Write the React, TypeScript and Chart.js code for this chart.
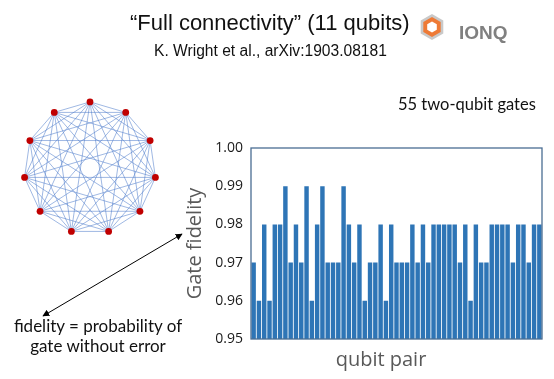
import React, { useEffect, useRef } from "react";
import { Chart, registerables } from "chart.js";
Chart.register(...registerables);

// ---- data ----
const qubitCount = 11;
const qubits = Array.from({ length: qubitCount }, (_, i) => i);
const qubitPairs: [number, number][] = [];
for (let i = 0; i < qubitCount; i++) for (let j = i + 1; j < qubitCount; j++) qubitPairs.push([i, j]);
const pairLabels = qubitPairs.map(([a, b]) => `(${a},${b})`);

const gateFidelity = [
  0.97, 0.96, 0.98, 0.96, 0.98, 0.98, 0.99, 0.97, 0.98, 0.97,
  0.99, 0.96, 0.98, 0.99, 0.97, 0.97, 0.97, 0.99, 0.98, 0.97,
  0.98, 0.96, 0.97, 0.97, 0.98, 0.96, 0.98, 0.97, 0.97, 0.97,
  0.98, 0.97, 0.98, 0.97, 0.98, 0.98, 0.98, 0.98, 0.98, 0.97,
  0.98, 0.96, 0.98, 0.97, 0.97, 0.98, 0.98, 0.98, 0.98, 0.97,
  0.98, 0.98, 0.97, 0.98, 0.98,
];
const yMin = 0.95;
const yMax = 1.0;
const yStep = 0.01;

const frame = {
  id: "frame",
  afterDraw(chart: any) {
    const { left, top, width, height } = chart.chartArea;
    const ctx = chart.ctx;
    ctx.save();
    ctx.strokeStyle = "#4a6d93";
    ctx.lineWidth = 1.3;
    ctx.strokeRect(left, top, width, height);
    ctx.restore();
  },
};

export default function App() {
  const barRef = useRef<HTMLCanvasElement>(null);
  const graphRef = useRef<HTMLCanvasElement>(null);

  useEffect(() => {
    const bar = new Chart(barRef.current!, {
      type: "bar",
      data: {
        labels: pairLabels,
        datasets: [
          {
            data: gateFidelity,
            backgroundColor: "#2e75b6",
            borderWidth: 0,
            barPercentage: 0.84,
            categoryPercentage: 1,
          },
        ],
      },
      options: {
        animation: false,
        responsive: false,
        maintainAspectRatio: false,
        layout: { padding: { left: 179, right: 12, top: 148, bottom: 40 } },
        plugins: { legend: { display: false }, tooltip: { enabled: false } },
        scales: {
          x: { display: false },
          y: {
            min: yMin,
            max: yMax,
            afterFit: (s: any) => {
              s.width = 72;
            },
            ticks: {
              stepSize: yStep,
              callback: (v: any) => Number(v).toFixed(2),
              color: "#1a1a1a",
              padding: 8,
              font: { family: "Open Sans", size: 14 },
            },
            grid: { display: false, drawTicks: false },
            border: { display: false },
            title: {
              display: true,
              text: "Gate fidelity",
              color: "#595959",
              font: { family: "Open Sans", size: 20 },
              padding: { top: 4, bottom: 4 },
            },
          },
        },
      },
      plugins: [frame],
    });

    const pts = qubits.map((k) => {
      const t = (2 * Math.PI * k) / qubitCount;
      return { x: Math.sin(t), y: Math.cos(t) };
    });
    const edgeSets = qubitPairs.map(([a, b]) => ({
      type: "line" as const,
      data: [pts[a], pts[b]],
      borderColor: "rgba(82,128,204,0.7)",
      borderWidth: 0.8,
      pointRadius: 0,
      showLine: true,
      order: 2,
      clip: false as any,
    }));
    const graph = new Chart(graphRef.current!, {
      type: "scatter",
      data: {
        datasets: [
          ...edgeSets,
          {
            type: "scatter" as const,
            data: pts,
            backgroundColor: "#c00000",
            borderColor: "#c00000",
            borderWidth: 0,
            pointRadius: 3.4,
            order: 1,
            clip: false as any,
          },
        ] as any,
      },
      options: {
        animation: false,
        responsive: false,
        maintainAspectRatio: false,
        layout: { padding: 0 },
        plugins: { legend: { display: false }, tooltip: { enabled: false } },
        scales: {
          x: { type: "linear", display: false, min: -1.15, max: 1.15 },
          y: { type: "linear", display: false, min: -1.15, max: 1.15 },
        },
      },
    });
    return () => {
      bar.destroy();
      graph.destroy();
    };
  }, []);

  const abs = (s: React.CSSProperties): React.CSSProperties => ({
    position: "absolute",
    whiteSpace: "nowrap",
    lineHeight: 1,
    margin: 0,
    ...s,
  });

  return (
    <div style={{ position: "fixed", left: 0, top: 0, width: 554, height: 379, background: "#fff", overflow: "hidden" }}>
      <canvas ref={barRef} width={554} height={379} style={{ position: "absolute", left: 0, top: 0 }} />
      <canvas ref={graphRef} width={160} height={160} style={{ position: "absolute", left: 10, top: 88 }} />
      <div style={abs({ left: 130, top: 12, fontFamily: "Liberation Sans", fontSize: 22, color: "#111" })}>
        “Full connectivity” (11 qubits)
      </div>
      <div style={abs({ left: 154, top: 43, fontFamily: "Liberation Sans", fontSize: 15.6, color: "#111" })}>
        K. Wright et al., arXiv:1903.08181
      </div>
      <svg width={554} height={379} style={{ position: "absolute", left: 0, top: 0 }}>
        <defs>
          <marker id="ah" viewBox="0 0 10 10" refX="9" refY="5" markerWidth="7" markerHeight="7" orient="auto-start-reverse">
            <path d="M0,0 L10,5 L0,10 z" fill="#000" />
          </marker>
        </defs>
        <line x1={43} y1={316} x2={182} y2={234} stroke="#000" strokeWidth={1} markerStart="url(#ah)" markerEnd="url(#ah)" />
        <g transform="translate(432,27)">
          <polygon points="0,-13 11.3,-6.5 11.3,6.5 0,13 -11.3,6.5 -11.3,-6.5" fill="#c9c9c9" />
          <polygon points="0,-10 8.7,-5 8.7,5 0,10 -8.7,5 -8.7,-5" fill="#ee7a36" />
          <polygon points="0,-5.5 4.8,-2.75 4.8,2.75 0,5.5 -4.8,2.75 -4.8,-2.75" fill="#fff" />
        </g>
      </svg>
      <div style={abs({ left: 459, top: 23, fontFamily: "Liberation Sans", fontWeight: 700, fontSize: 19, color: "#808080" })}>
        IONQ
      </div>
      <div style={abs({ left: 398, top: 96, fontFamily: "Lato", fontSize: 16.5, color: "#111" })}>55 two-qubit gates</div>
      <div style={abs({ left: 0, width: 196, textAlign: "center", top: 317, fontFamily: "Lato", fontSize: 17, color: "#111" })}>
        fidelity = probability of
      </div>
      <div style={abs({ left: 0, width: 196, textAlign: "center", top: 337, fontFamily: "Lato", fontSize: 17, color: "#111" })}>
        gate without error
      </div>
      <div style={abs({ left: 281, width: 200, textAlign: "center", top: 349, fontFamily: "Open Sans", fontSize: 20, color: "#595959" })}>
        qubit pair
      </div>
    </div>
  );
}
